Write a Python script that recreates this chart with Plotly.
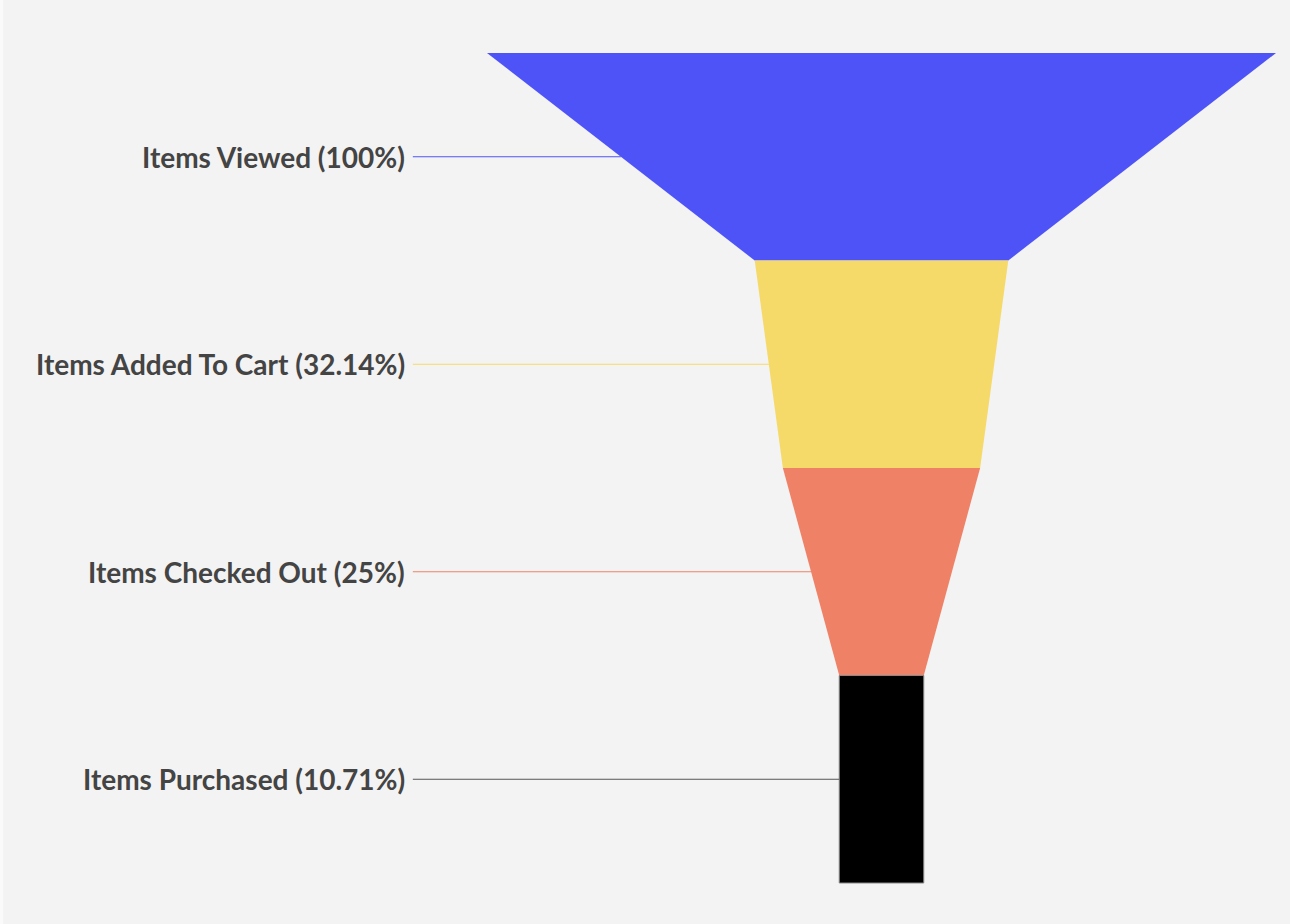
import plotly.graph_objects as go

# funnel stages
stages = ["Items Viewed", "Items Added To Cart", "Items Checked Out", "Items Purchased"]
counts = [28, 9, 7, 3]
colors = ["#4E53F7", "#F5DA6A", "#EF8166", "#000000"]
line_colors = ["#4E53F7", "#F5DA6A", "#EF8166", "#555555"]

base = counts[0]
widths = [c / base for c in counts]
pcts = [round(c / base * 100, 2) for c in counts]

fig = go.Figure()

n = len(stages)
for i in range(n):
    top = widths[i]
    bot = widths[i + 1] if i + 1 < n else widths[i]
    xs = [-top / 2, top / 2, bot / 2, -bot / 2, -top / 2]
    ys = [i, i, i + 1, i + 1, i]
    fig.add_trace(go.Scatter(
        x=xs, y=ys, mode="lines", fill="toself",
        fillcolor=colors[i],
        line=dict(color=colors[i] if i < n - 1 else "#888888", width=1 if i == n - 1 else 0),
        hoverinfo="skip", showlegend=False,
    ))
    # leader line to the left edge at mid height
    mid = (top + bot) / 4
    fig.add_trace(go.Scatter(
        x=[-0.594, -mid], y=[i + 0.5, i + 0.5], mode="lines",
        line=dict(color=line_colors[i], width=1),
        hoverinfo="skip", showlegend=False,
    ))
    label = f"{stages[i]} ({pcts[i]:g}%)"
    fig.add_annotation(
        x=-0.601, y=i + 0.5, text=label, showarrow=False,
        xanchor="right", yanchor="middle",
        font=dict(family="Lato", size=28, color="#444444", weight="bold"),
    )

fig.update_xaxes(range=[-881.5 / 789, (1290 - 881.5) / 789], visible=False)
fig.update_yaxes(range=[(924 - 53) / 207.5, -53 / 207.5], visible=False)

fig.update_layout(
    plot_bgcolor="#F3F3F3",
    paper_bgcolor="#F3F3F3",
    margin=dict(l=0, r=0, t=0, b=0),
    shapes=[dict(type="rect", xref="paper", yref="paper", x0=0, x1=0.0025, y0=0, y1=1,
                 fillcolor="#FAFAFA", line=dict(width=0), layer="below")],
)

fix_page = ("document.body.style.margin='0';"
            "document.body.style.background='#F3F3F3';"
            "Plotly.Plots.resize(document.getElementById('{plot_id}'));")
fig.write_html("out.html", post_script=fix_page, config={"displayModeBar": False})
